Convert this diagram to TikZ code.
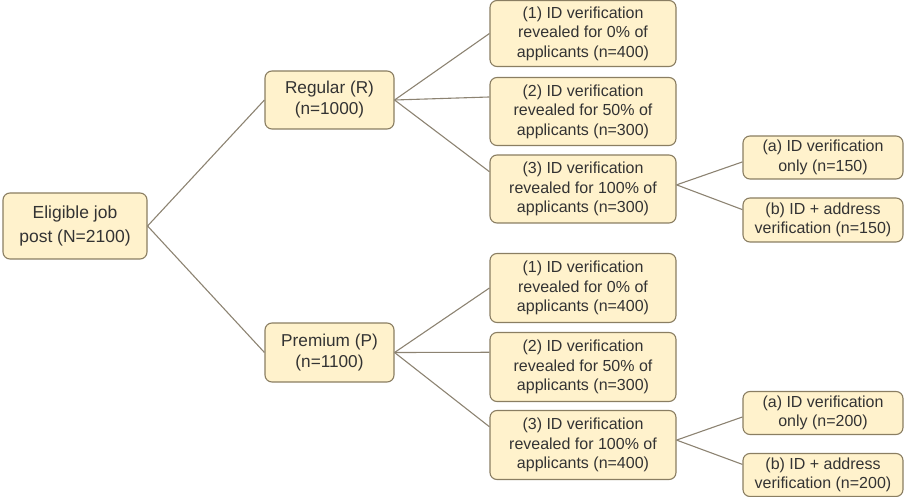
\documentclass[tikz,border=0pt]{standalone}
\usepackage{fontspec}
\setmainfont{Liberation Sans}
\usetikzlibrary{calc}
\definecolor{boxfill}{HTML}{FFF2CC}
\definecolor{boxdraw}{HTML}{8A7E62}
\definecolor{linecol}{HTML}{8C8372}
\definecolor{txt}{HTML}{333333}
\begin{document}
\begin{tikzpicture}[x=1pt,y=-1pt,
  box/.style={draw=boxdraw,fill=boxfill,line width=1.1pt,rounded corners=7pt,
    align=center,inner sep=0pt,text=txt,
    font=\fontsize{16}{19.5}\selectfont},
  rootbox/.style={box,font=\fontsize{17.5}{23.5}\selectfont},
  midbox/.style={box,font=\fontsize{17.2}{21}\selectfont},
  conn/.style={draw=linecol,line width=1.1pt}]
\useasboundingbox (0,0) rectangle (908,497);
% nodes
\node[rootbox,minimum width=144pt,minimum height=66pt] (root) at (75,226) {Eligible job\\post (N=2100)};
\node[midbox,minimum width=129pt,minimum height=58pt] (R) at (329.5,100) {Regular (R)\\(n=1000)};
\node[midbox,minimum width=129pt,minimum height=59pt] (P) at (329.5,352.5) {Premium (P)\\(n=1100)};
\node[box,minimum width=186pt,minimum height=66pt] (R1) at (583,33.5) {(1) ID verification\\revealed for 0\% of\\applicants (n=400)};
\node[box,minimum width=186pt,minimum height=68pt] (R2) at (583,111.5) {(2) ID verification\\revealed for 50\% of\\applicants (n=300)};
\node[box,minimum width=186pt,minimum height=68pt] (R3) at (583,189) {(3) ID verification\\revealed for 100\% of\\applicants (n=300)};
\node[box,minimum width=186pt,minimum height=69pt] (P1) at (583,288) {(1) ID verification\\revealed for 0\% of\\applicants (n=400)};
\node[box,minimum width=186pt,minimum height=69pt] (P2) at (583,367) {(2) ID verification\\revealed for 50\% of\\applicants (n=300)};
\node[box,minimum width=186pt,minimum height=69pt] (P3) at (583,445) {(3) ID verification\\revealed for 100\% of\\applicants (n=400)};
\node[box,minimum width=160pt,minimum height=43pt] (Ra) at (823,157.5) {(a) ID verification\\only (n=150)};
\node[box,minimum width=160pt,minimum height=44pt] (Rb) at (823,220) {(b) ID + address\\verification (n=150)};
\node[box,minimum width=160pt,minimum height=43pt] (Pa) at (823,413) {(a) ID verification\\only (n=200)};
\node[box,minimum width=160pt,minimum height=43pt] (Pb) at (823,475) {(b) ID + address\\verification (n=200)};
% connectors
\draw[conn] (root.east) -- (R.west);
\draw[conn] (root.east) -- (P.west);
\draw[conn] (R.east) -- (R1.west);
\draw[conn] (R.east) -- ($(R2.north west)!0.29!(R2.south west)$);
\draw[conn] (R.east) -- ($(R3.north west)!0.25!(R3.south west)$);
\draw[conn] (P.east) -- (P1.west);
\draw[conn] (P.east) -- ($(P2.north west)!0.29!(P2.south west)$);
\draw[conn] (P.east) -- ($(P3.north west)!0.24!(P3.south west)$);
\draw[conn] ($(R3.north east)!0.44!(R3.south east)$) -- ($(Ra.north west)!0.6!(Ra.south west)$);
\draw[conn] ($(R3.north east)!0.44!(R3.south east)$) -- ($(Rb.north west)!0.27!(Rb.south west)$);
\draw[conn] ($(P3.north east)!0.43!(P3.south east)$) -- ($(Pa.north west)!0.59!(Pa.south west)$);
\draw[conn] ($(P3.north east)!0.43!(P3.south east)$) -- ($(Pb.north west)!0.26!(Pb.south west)$);
\end{tikzpicture}
\end{document}
